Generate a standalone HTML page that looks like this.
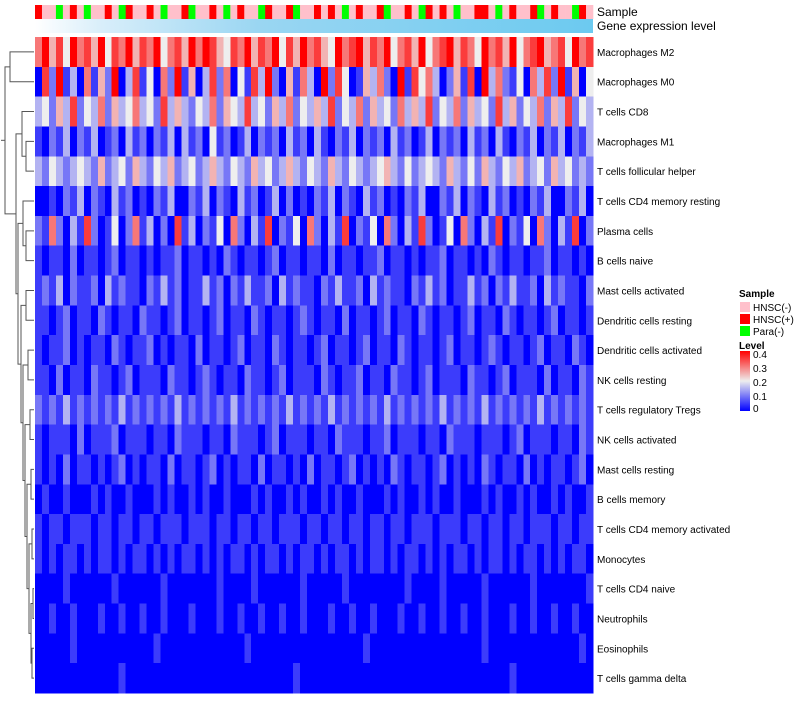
<!DOCTYPE html>
<html><head><meta charset="utf-8"><style>
body{margin:0;background:#fff;}
svg{font-family:"Liberation Sans",sans-serif;}
</style></head><body>
<svg id="chart" width="800" height="700" viewBox="0 0 800 700">
<defs>
<linearGradient id="geneGrad" x1="0" x2="1" y1="0" y2="0"><stop offset="0" stop-color="#ffffff"/><stop offset="0.12" stop-color="#d8eefa"/><stop offset="0.4" stop-color="#9ad6f2"/><stop offset="1" stop-color="#6ccaf0"/></linearGradient>
<linearGradient id="levelGrad" x1="0" x2="0" y1="1" y2="0"><stop offset="0" stop-color="#0000ff"/><stop offset="0.5" stop-color="#eeeeee"/><stop offset="1" stop-color="#ff0000"/></linearGradient>
</defs>
<g id="dendro"></g>
<g id="annot"></g>
<g id="cells" shape-rendering="crispEdges"></g>
<g id="labels"></g>
<text x="597" y="16" font-size="12">Sample</text>
<text x="597" y="30" font-size="12">Gene expression level</text>
<g font-size="10">
<text x="739" y="297" font-weight="bold">Sample</text>
<rect x="740" y="302" width="10" height="10" fill="#ffc0cb"/>
<text x="753" y="311">HNSC(-)</text>
<rect x="740" y="314" width="10" height="10" fill="#ff0000"/>
<text x="753" y="323">HNSC(+)</text>
<rect x="740" y="326" width="10" height="10" fill="#00ff00"/>
<text x="753" y="335">Para(-)</text>
<text x="739" y="349" font-weight="bold">Level</text>
<rect x="740" y="351" width="10" height="60" fill="url(#levelGrad)"/>
<text x="753" y="358">0.4</text>
<text x="753" y="372">0.3</text>
<text x="753" y="386">0.2</text>
<text x="753" y="400">0.1</text>
<text x="753" y="412">0</text>
</g>
</svg>
<script>
const rowNames=["Macrophages M2","Macrophages M0","T cells CD8","Macrophages M1","T cells follicular helper","T cells CD4 memory resting","Plasma cells","B cells naive","Mast cells activated","Dendritic cells resting","Dendritic cells activated","NK cells resting","T cells regulatory  Tregs","NK cells activated","Mast cells resting","B cells memory","T cells CD4 memory activated","Monocytes","T cells CD4 naive","Neutrophils","Eosinophils","T cells gamma delta"];
// digit d => level d*0.05
const rowValues=[
"68574867584768576846758687547685768475867548678576846758467857648675846785674867",
"07281306152803714062815037260417382051630827401536208174630251708362140637281504",
"34253724362534634273532436254373425362435372436253426353724362534273524362537243",
"10213021301203120213031204120130212031203102130212031201302120312031021302130213",
"32432343252342532435234235324325342353243253243234532423432532425324352342534232",
"00102130210312010213002130210312013020102130210312010213002130210312010213002130",
"21620317201402613020713021406203170214062031702140620317201406203170214062031702",
"10110201101201101011201101021011012011011020110112011010112011010210110112011010",
"12130211203121102131201131202131120312110213112031211021312011312021311203121102",
"11012011021011021101201101201102101101210110201101201102101101201102101101201101",
"10112010110210112010110201101201102101101201101201102101101201101210110120110210",
"11020110211012011102110121011021101201110210112011021101201110211012011102011021",
"21213121212131212121312121213121212131212131212121312121213121213121212131212121",
"10111020111201110110211101102111012011101102111011201110110211101110120111011021",
"10102011010120101102011012010110201101020110120101021011012010102101102010110120",
"01001000101001000101001010010001010010100101001000101001010010001010010100101001",
"10110111011011011011101110110110110111011011011011011011101110110110110111011011",
"10101101011010110101011010101101011010110101101011010110101011010110101101010110",
"00001000000100000010000000100001000000100000100000000100001000001000000100000001",
"00100100010010010010001000100100100100100010010010001001001001001000100100100100",
"00000100000000000100000000000010000000000000000100000000000000001000000000000010",
"00000000000010000000000000000000000001000000000000000000000000000000100000000000"];
const sampleTypes="rppgprpgpprpgrpprpgpprgpprpgprppgrpprgpprprpgprpprgpprpgrprpgpprrpgprpprgprppgrp";
const sampleColors={p:"#ffc0cb",r:"#ff0000",g:"#00ff00"};
const levelTicks=[0,0.1,0.2,0.3,0.4];

const NS="http://www.w3.org/2000/svg";
const X0=35,X1=593,Y0=37,Y1=693;
const nCol=rowValues[0].length, nRow=rowNames.length;
const cw=(X1-X0)/nCol, rh=(Y1-Y0)/nRow;
const xPos=c=>X0+c*cw, yPos=r=>Y0+r*rh;
function color(v){
  const t=Math.max(0,Math.min(1,v/0.4));
  let r,g,b;
  if(t<0.5){const u=t/0.5;r=Math.round(238*u);g=Math.round(238*u);b=Math.round(255-17*u);}
  else{const u=(t-0.5)/0.5;r=Math.round(238+17*u);g=Math.round(238*(1-u));b=Math.round(238*(1-u));}
  return `rgb(${r},${g},${b})`;
}
function mk(tag,attrs,parent){const e=document.createElementNS(NS,tag);for(const k in attrs)e.setAttribute(k,attrs[k]);parent.appendChild(e);return e;}
const cells=document.getElementById('cells');
for(let r=0;r<nRow;r++){
  for(let c=0;c<nCol;c++){
    const v=parseInt(rowValues[r][c])*0.05;
    const el=mk('rect',{x:xPos(c),y:yPos(r),width:cw+0.3,height:rh+0.3,fill:color(v)},cells);
    
    
  }
  const t=mk('text',{x:597,y:yPos(r)+rh/2+4,'font-size':10},document.getElementById('labels'));
  t.textContent=rowNames[r];
  
  
}
const annot=document.getElementById('annot');
for(let c=0;c<nCol;c++){
  const el=mk('rect',{x:xPos(c),y:5,width:cw+0.3,height:14,fill:sampleColors[sampleTypes[c]]},annot);
  
  
}
const gb=mk('rect',{x:X0,y:19,width:X1-X0,height:14,fill:'url(#geneGrad)'},annot);



// dendrogram: [x, left, right]; leaves are row indices
const tree=[5,[10,0,1],[16,[22,2,[26,3,4]],[18,[23,5,[26,6,7]],[21,[26,8,9],[23,[28,10,11],[25,[30,12,13],[27,[31,14,15],[29,[32,16,17],[31,[33,18,19],[32,20,21]]]]]]]]]];
const dg=document.getElementById('dendro');
function drawNode(n){
  if(typeof n==='number') return {x:34,y:yPos(n)+rh/2};
  const a=drawNode(n[1]),b=drawNode(n[2]),x=n[0];
  const st={stroke:'#555','stroke-width':1,fill:'none'};
  const p=mk('path',Object.assign({d:`M${a.x},${a.y}H${x}V${b.y}H${b.x}`},st),dg);
  
  
  return {x:x,y:(a.y+b.y)/2};
}
const root=drawNode(tree);
const rl=mk('path',{d:`M${root.x},${root.y}H1`,stroke:'#555',fill:'none'},dg);


</script>
</body></html>
